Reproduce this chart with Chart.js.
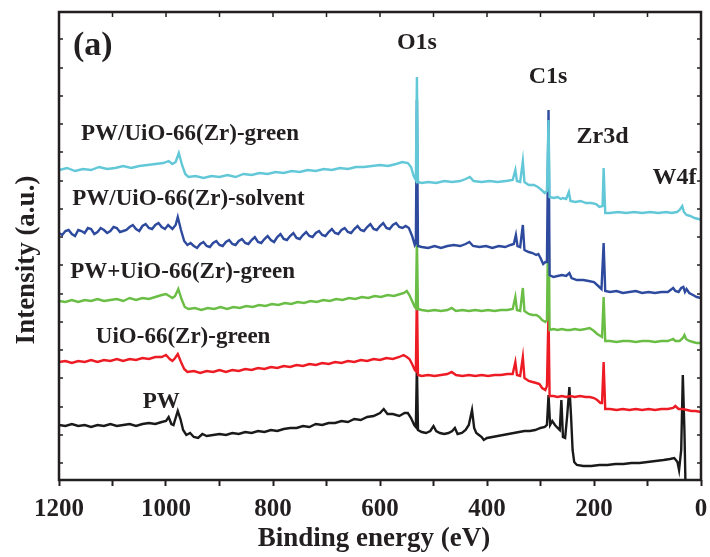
<!DOCTYPE html>
<html>
<head>
<meta charset="utf-8">
<script src="https://cdn.jsdelivr.net/npm/chart.js@4.4.0/dist/chart.umd.min.js"></script>
<style>
  html, body { margin: 0; padding: 0; background: #fff; }
  #wrap { width: 710px; height: 557px; }
</style>
</head>
<body>
<div id="wrap"><canvas id="xpsChart" width="710" height="557"></canvas></div>
<script>
// XPS survey spectra, binding energy (eV) vs intensity (a.u., offset stacked)

// PW/UiO-66(Zr)-green (cyan)
const greenCompX = [1200,1185,1170,1155,1140,1125,1110,1095,1080,1065,1050,1035,1020,1005,995,988,982,976,970,964,958,945,930,915,900,885,870,855,840,825,810,795,780,765,750,735,720,705,690,675,660,645,630,615,600,585,570,558,548,542,537,533,531,529,522,510,495,480,465,450,440,432,425,410,395,380,365,352,347,344,338,333,330,322,312,305,298,292,288,285,283,275,268,262,258,252,247,244,235,225,215,205,196,190,184,182,179,170,155,140,125,110,95,80,65,55,45,40,35,32,27,20,12,5,0];
const greenCompY = [310,312,309,311,310,313,311,312,314,312,314,315,316,317,319,316,318,327,315,306,303,304,302,304,303,305,303,306,305,307,306,308,307,309,308,310,309,311,310,312,311,313,313,314,315,314,316,318,317,313,304,300,403,298,297,298,297,299,298,299,301,303,299,298,299,298,299,300,310,299,298,319,298,295,295,293,290,287,289,360,283,282,283,281,282,281,288,279,278,279,277,277,276,273,274,312,267,267,268,267,268,267,268,267,268,267,268,270,274,268,265,264,262,261,260];

// PW/UiO-66(Zr)-solvent (blue)
const solventX = [1200,1194,1188,1182,1176,1170,1164,1158,1152,1146,1140,1134,1128,1122,1116,1110,1104,1098,1092,1086,1080,1074,1068,1062,1056,1050,1044,1038,1032,1026,1020,1014,1008,1002,996,988,982,978,972,966,960,954,948,942,936,930,924,918,912,906,900,894,888,882,876,870,864,858,852,846,840,834,828,822,816,810,804,798,792,786,780,774,768,762,756,750,744,738,732,726,720,714,708,702,696,690,684,678,672,666,660,654,648,642,636,630,624,618,612,606,600,594,588,582,576,570,564,558,552,546,540,535,533,531,529,522,510,498,486,474,462,450,440,433,426,414,402,390,378,366,356,350,346,343,338,333,330,322,315,308,304,300,295,291,288,285,283,276,268,260,252,246,242,232,220,210,200,192,186,182,179,170,158,146,134,122,110,98,86,74,62,52,48,42,37,33,30,27,22,15,8,0];
const solventY = [247,245,249,250,246,244,250,249,247,252,251,246,248,252,250,247,249,253,252,248,249,250,253,255,251,249,254,256,252,251,255,257,253,251,255,251,255,263,250,239,235,237,234,232,236,238,234,233,237,239,235,234,238,240,236,235,239,241,237,236,240,243,238,237,241,244,240,238,243,246,241,240,244,247,242,241,245,248,244,243,247,249,245,244,248,251,247,246,250,252,248,247,251,254,250,249,253,256,251,250,254,257,252,251,255,257,253,252,254,252,244,235,237,380,234,233,232,234,232,234,235,234,236,238,234,233,234,232,234,233,235,236,245,234,233,255,230,228,227,225,226,222,216,218,218,370,205,203,204,205,204,207,202,200,200,199,198,194,191,237,189,188,189,187,188,189,187,188,187,188,188,192,189,188,192,193,188,191,187,185,183,182];

// PW+UiO-66(Zr)-green (green)
const mixX = [1200,1188,1176,1164,1152,1140,1128,1116,1104,1092,1080,1068,1056,1044,1032,1020,1008,1000,994,988,983,977,971,965,958,946,934,922,910,898,886,874,862,850,838,826,814,802,790,778,766,754,742,730,718,706,694,682,670,658,646,634,622,610,598,586,574,562,555,550,545,540,535,533,531,529,522,510,498,486,474,466,458,446,434,422,410,398,386,374,362,352,347,344,338,333,330,322,315,308,302,297,291,288,285,283,276,268,260,252,244,236,226,216,208,200,194,188,185,182,179,170,158,146,134,122,110,98,86,74,62,52,48,40,34,31,28,22,15,8,0];
const mixY = [179,178,180,178,180,179,181,179,180,181,179,182,180,182,181,183,185,186,184,182,184,191,181,173,171,172,170,172,171,173,171,173,172,174,173,175,174,176,175,177,176,178,177,179,178,180,179,181,180,182,181,183,182,184,183,185,184,186,187,189,185,179,173,172,240,171,170,169,170,169,170,172,169,170,169,170,169,170,169,170,170,171,183,170,169,192,169,166,165,165,163,160,158,160,280,150,151,150,151,150,150,151,150,151,152,149,146,144,143,183,139,139,138,139,139,138,139,139,138,139,139,141,139,139,142,145,141,139,138,137,137];

// UiO-66(Zr)-green (red)
const uioX = [1200,1188,1176,1164,1152,1140,1128,1116,1104,1092,1080,1068,1056,1044,1032,1020,1008,1000,993,988,983,978,972,966,960,948,936,924,912,900,888,876,864,852,840,828,816,804,792,780,768,756,744,732,720,708,696,684,672,660,648,636,624,612,600,588,576,564,556,550,545,540,535,533,531,529,522,510,498,486,474,466,458,446,434,422,410,398,386,374,362,352,347,344,338,333,330,322,315,308,302,297,291,288,285,283,276,268,260,252,244,236,226,216,208,200,194,188,185,182,179,170,158,146,134,122,110,98,86,74,62,52,48,42,34,26,18,10,0];
const uioY = [118,119,117,119,118,120,118,120,119,121,119,121,120,122,121,123,123,125,121,119,122,126,118,111,108,109,107,109,108,110,108,110,109,111,110,112,111,113,112,114,113,115,114,116,115,117,116,118,117,119,118,120,119,121,120,122,121,123,125,123,121,116,110,109,190,105,104,105,104,105,106,108,105,104,105,104,105,104,105,105,106,106,118,105,104,123,102,99,98,97,96,92,90,94,168,84,84,83,84,83,84,83,84,83,83,82,80,77,77,118,71,71,70,71,70,71,70,71,70,71,71,72,74,71,71,70,69,69,68];

// PW (black)
const pwX = [1200,1188,1176,1164,1152,1140,1128,1116,1104,1092,1080,1068,1056,1044,1032,1020,1008,1000,995,990,986,978,973,968,962,955,948,940,932,924,912,900,888,876,864,852,840,828,816,804,792,780,768,756,744,732,720,708,696,684,672,660,648,636,624,612,600,593,586,576,564,554,548,542,536,533,531,529,522,514,506,500,495,488,480,472,465,460,455,447,440,434,428,424,420,415,410,406,400,390,380,370,360,350,340,330,320,310,300,292,288,285,282,278,273,268,264,261,258,254,250,246,243,240,237,232,220,205,190,175,160,145,130,115,100,85,70,58,50,44,41,37,34,31,29];
const pwY = [55,54,56,54,55,53,55,54,56,54,55,56,54,56,57,56,58,59,63,56,55,69,61,50,45,47,43,42,46,44,45,46,45,47,46,48,47,49,48,50,49,51,52,52,54,53,56,55,57,57,59,58,61,60,63,64,67,71,66,66,64,67,67,62,55,53,115,50,48,47,49,54,49,47,46,47,49,52,46,47,50,55,70,52,47,45,43,40,42,43,44,45,46,47,48,49,49,50,52,53,55,85,55,59,55,52,50,80,43,42,65,93,65,30,18,15,14,14,15,15,16,16,17,17,18,19,20,21,22,18,10,30,105,50,-5];

const seriesNames = ["PW/UiO-66(Zr)-green", "PW/UiO-66(Zr)-solvent", "PW+UiO-66(Zr)-green", "UiO-66(Zr)-green", "PW"];
const seriesColors = ["#62c8d8", "#2e4a9e", "#6abd45", "#ed1c24", "#1a1a1a"];

// axis
const xMin = 0, xMax = 1200, xStep = 100;
const yMax = 468;
const yTicks = [17, 45, 73, 102, 130, 158, 186, 215, 243, 271, 299, 328, 356, 384, 412, 441];

// text labels (eV, intensity)
const peakLabels = [
  { text: "(a)", x: 1137, y: 425, size: 34 },
  { text: "O1s", x: 531, y: 431, size: 24 },
  { text: "C1s", x: 286, y: 397, size: 24 },
  { text: "Zr3d", x: 184, y: 337, size: 24 },
  { text: "W4f", x: 49.5, y: 296, size: 24 },
  { text: seriesNames[0], x: 955, y: 340, size: 23 },
  { text: seriesNames[1], x: 958, y: 275, size: 23 },
  { text: seriesNames[2], x: 969, y: 202.5, size: 23 },
  { text: seriesNames[3], x: 968, y: 137.5, size: 23 },
  { text: seriesNames[4], x: 1009, y: 72, size: 23 },
];

const INK = "#231f20";
const SERIF = "'Liberation Serif', 'Times New Roman', serif";

function toPoints(xs, ys) {
  return xs.map((v, i) => ({ x: v, y: ys[i] }));
}

const allX = [greenCompX, solventX, mixX, uioX, pwX];
const allY = [greenCompY, solventY, mixY, uioY, pwY];

// first dataset is drawn on top -> cyan first, black last
const datasets = seriesNames.map((name, i) => ({
  label: name,
  data: toPoints(allX[i], allY[i]),
  borderColor: seriesColors[i],
  borderWidth: 2.4,
  pointRadius: 0,
  tension: 0,
  fill: false,
}));

// frame, inside ticks, titles and labels
const framePlugin = {
  id: "frame",
  afterDatasetsDraw(chart) {
    const { ctx, chartArea: a, scales } = chart;
    const x = scales.x, y = scales.y;
    ctx.save();
    ctx.strokeStyle = INK;
    ctx.lineWidth = 1.5;
    ctx.beginPath();
    for (let e = xMin; e <= xMax; e += xStep) {
      const px = x.getPixelForValue(e);
      ctx.moveTo(px, a.top);
      ctx.lineTo(px, a.top + 5);
    }
    y.ticks.forEach(t => {
      const py = y.getPixelForValue(t.value);
      ctx.moveTo(a.left, py);
      ctx.lineTo(a.left + 4, py);
      ctx.moveTo(a.right, py);
      ctx.lineTo(a.right - 4, py);
    });
    ctx.stroke();

    ctx.lineWidth = 2.5;
    ctx.strokeRect(a.left, a.top, a.right - a.left, a.bottom - a.top);

    ctx.fillStyle = INK;
    ctx.textAlign = "center";
    ctx.textBaseline = "alphabetic";
    peakLabels.forEach(l => {
      ctx.font = "bold " + l.size + "px " + SERIF;
      ctx.fillText(l.text, x.getPixelForValue(l.x), y.getPixelForValue(l.y));
    });

    // axis titles
    ctx.font = "bold 27px " + SERIF;
    ctx.fillText("Binding energy (eV)", 374, 546);
    ctx.translate(34, 260);
    ctx.rotate(-Math.PI / 2);
    ctx.fillText("Intensity (a.u.)", 0, 0);
    ctx.restore();
  }
};

Chart.defaults.font.family = SERIF;
Chart.defaults.color = INK;

new Chart(document.getElementById("xpsChart"), {
  type: "line",
  data: { datasets },
  options: {
    responsive: false,
    animation: false,
    devicePixelRatio: 1,
    layout: { padding: { top: 12, right: 9, left: 0, bottom: 0 } },
    plugins: {
      legend: { display: false },
      tooltip: { enabled: false },
    },
    scales: {
      x: {
        type: "linear",
        min: xMin,
        max: xMax,
        reverse: true,
        // fixed height, and no extra side padding for the end labels
        afterFit: s => { s.height = 77; s.paddingLeft = 0; s.paddingRight = 0; },
        border: { display: false },
        grid: { drawOnChartArea: false, drawTicks: true, tickLength: 6, tickWidth: 2, tickColor: INK },
        ticks: {
          stepSize: xStep,
          autoSkip: false,
          maxRotation: 0,
          padding: 9,
          color: INK,
          font: { size: 25, weight: "bold" },
          callback: v => (v % 200 === 0 ? v : ""),
        },
      },
      y: {
        type: "linear",
        min: 0,
        max: yMax,
        afterFit: s => { s.width = 59; },
        afterBuildTicks: s => { s.ticks = yTicks.map(v => ({ value: v })); },
        border: { display: false },
        grid: { display: false },
        ticks: { display: false },
      },
    },
  },
  plugins: [framePlugin],
});
</script>
</body>
</html>
